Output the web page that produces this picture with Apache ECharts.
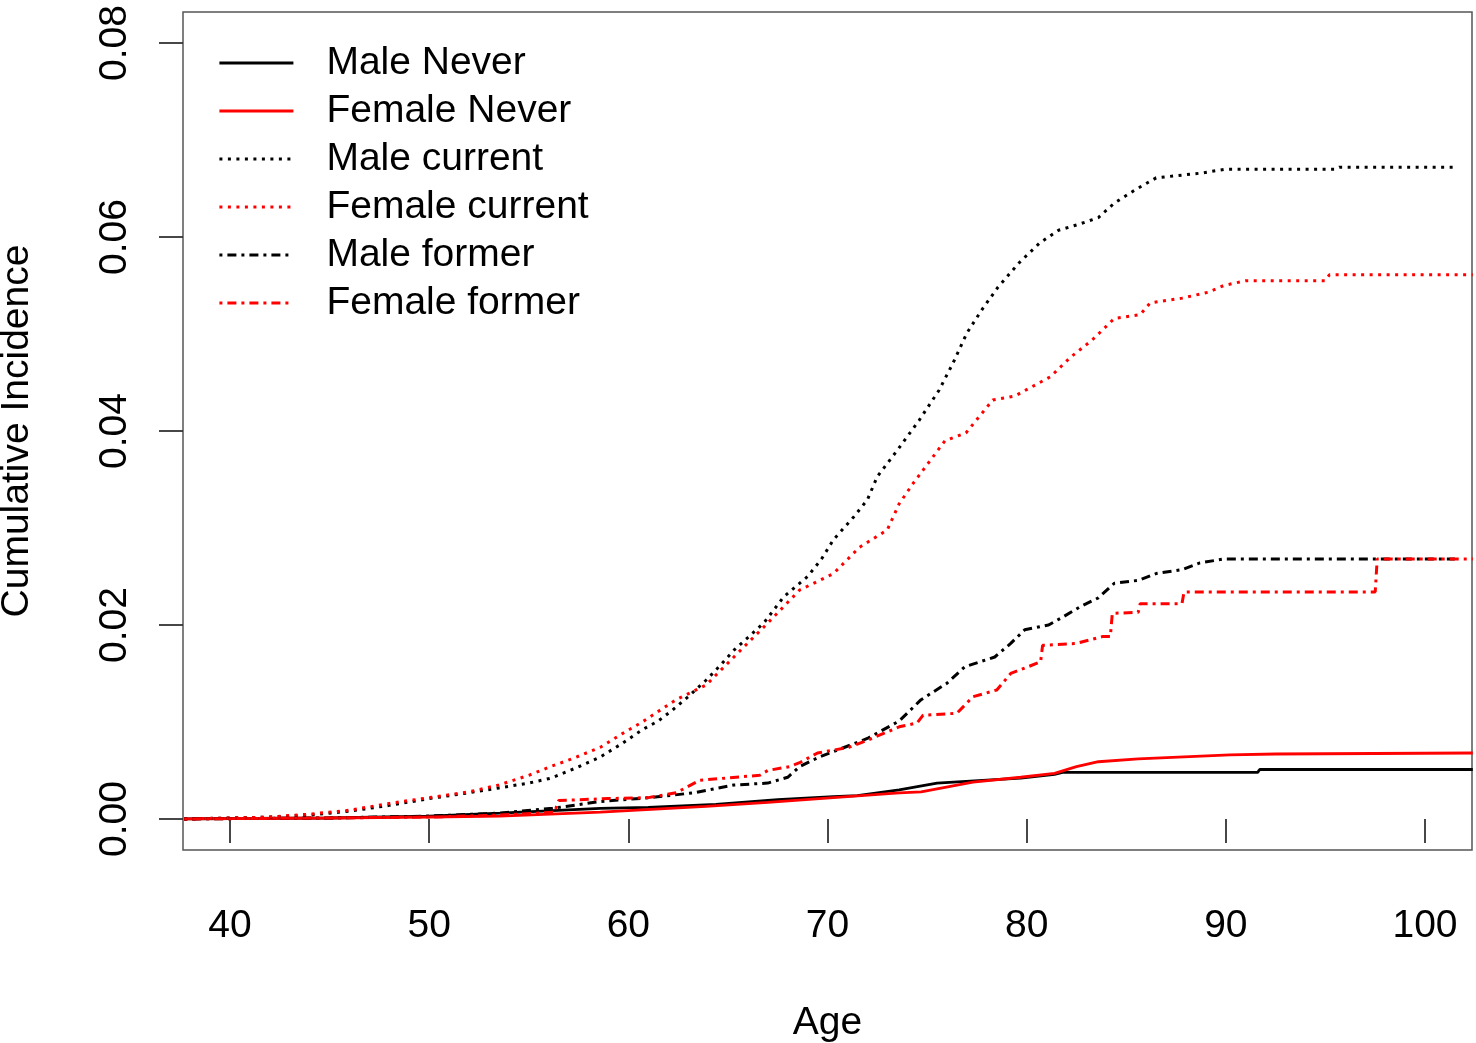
<!DOCTYPE html>
<html>
<head>
<meta charset="utf-8">
<script src="https://cdn.jsdelivr.net/npm/echarts@6/dist/echarts.min.js"></script>
<style>
    html, body { margin: 0; padding: 0; background: #fff; }
    #chart { width: 1476px; height: 1043px; }
</style>
</head>
<body>
<div id="chart"></div>
<script>
(function (window) {
    "use strict";

    // 数据：[年龄, 累计发病率]
    var maleNever = [[37.7, 0], [45, 0.0001], [50, 0.0003], [53.55, 0.0006], [58.6, 0.0011], [61, 0.0012],
        [64.4, 0.0015], [67.5, 0.002], [70.3, 0.0023], [71.5, 0.0024], [73.6, 0.003], [75.5, 0.0037],
        [78, 0.004], [79.7, 0.0042], [81.4, 0.0046], [81.8, 0.0048], [91.6, 0.0048], [91.7, 0.0051],
        [102.4, 0.0051]];

    var femaleNever = [[37.7, 0], [45, 0.0001], [50, 0.0002], [53.55, 0.0003], [58.6, 0.0007], [63.9, 0.0013],
        [67, 0.0017], [70.3, 0.0022], [73.6, 0.0027], [74.7, 0.0028], [77.3, 0.0038], [79.7, 0.0043],
        [81.4, 0.0047], [82.5, 0.0054], [83.6, 0.0059], [85.6, 0.0062], [90.2, 0.0066], [92.5, 0.0067],
        [102.4, 0.0068]];

    var maleCurrent = [[37.7, 0], [40, 0.0001], [42, 0.0002], [44, 0.0004], [46, 0.0008], [48, 0.0014],
        [50, 0.0021], [52, 0.0027], [53.5, 0.0032], [55, 0.0037], [56.1, 0.0042], [57.3, 0.0052],
        [58.6, 0.0064], [59.7, 0.0078], [60.7, 0.0092], [61.5, 0.0101], [62.2, 0.0112], [63, 0.0126],
        [63.9, 0.0143], [64.6, 0.0158], [65.3, 0.0174], [66, 0.0187], [66.8, 0.0202], [67.8, 0.0229],
        [69, 0.025], [69.7, 0.0268], [70.3, 0.0288], [71.3, 0.0311], [72, 0.0329], [72.5, 0.0353],
        [73.5, 0.038], [74.6, 0.0411], [75.6, 0.0442], [76.3, 0.047], [77, 0.0501], [77.75, 0.0525],
        [78.55, 0.0548], [79.6, 0.0573], [80.66, 0.0594], [81.6, 0.0607], [82.6, 0.0613], [83.6, 0.062],
        [84.4, 0.0635], [85.4, 0.0648], [86.5, 0.0661], [88.8, 0.0666], [90, 0.067], [95.5, 0.067],
        [95.7, 0.0672], [101.5, 0.0672]];

    var femaleCurrent = [[37.7, 0], [40, 0.0001], [42, 0.0002], [44, 0.0005], [46, 0.0009], [48, 0.0016],
        [50, 0.0022], [52, 0.0028], [53.5, 0.0035], [55, 0.0045], [56.1, 0.0054], [57.3, 0.0063],
        [58.6, 0.0074], [59.7, 0.0088], [60.7, 0.01], [62.4, 0.0123], [63.9, 0.0138], [65.3, 0.0167],
        [67, 0.0202], [68.6, 0.0236], [70.3, 0.0253], [71.6, 0.028], [73, 0.0298], [73.6, 0.0325],
        [74.3, 0.0346], [75.9, 0.039], [76.95, 0.0398], [78.3, 0.0432], [79.4, 0.0436], [81.2, 0.0456],
        [82.2, 0.0476], [83.3, 0.0494], [84.4, 0.0516], [85.7, 0.052], [86.2, 0.0532], [87.8, 0.0537],
        [89.1, 0.0543], [89.9, 0.055], [91, 0.0555], [95, 0.0555], [95.2, 0.0561], [102.4, 0.0561]];

    var maleFormer = [[37.7, 0], [45, 0.0001], [50, 0.0003], [53.55, 0.0006], [56.2, 0.0011], [58.6, 0.0018],
        [61.1, 0.0022], [63.3, 0.0027], [65.3, 0.0035], [67, 0.0037], [68, 0.0043], [68.6, 0.0054],
        [69.6, 0.0064], [70.5, 0.0071], [72, 0.0083], [73.6, 0.0101], [74.7, 0.0123], [76, 0.014],
        [76.9, 0.0157], [78.4, 0.0167], [79.2, 0.0181], [79.9, 0.0195], [81.1, 0.02], [81.8, 0.0208],
        [82.7, 0.0219], [83.6, 0.0228], [84.4, 0.0243], [85.6, 0.0246], [86.5, 0.0253], [87.8, 0.0257],
        [88.7, 0.0264], [89.9, 0.0268], [101.5, 0.0268]];

    var femaleFormer = [[37.7, 0], [45, 0.0001], [50, 0.0002], [53.55, 0.0004], [56.3, 0.0007], [56.5, 0.0019],
        [59, 0.0021], [61, 0.0022], [62.4, 0.0027], [63.6, 0.004], [66.6, 0.0045], [67, 0.005],
        [68.1, 0.0054], [68.6, 0.0058], [69.5, 0.0068], [71.1, 0.0074], [72, 0.0081], [73.6, 0.0095],
        [74.5, 0.0099], [74.8, 0.0107], [76.5, 0.0109], [77.3, 0.0126], [78.5, 0.0133], [79.2, 0.015],
        [80.7, 0.0162], [80.8, 0.0179], [82.5, 0.0181], [83.8, 0.0188], [84.2, 0.0188], [84.3, 0.0212],
        [85.6, 0.0213], [85.7, 0.0222], [87.8, 0.0222], [87.9, 0.0234], [97.5, 0.0234], [97.6, 0.0268],
        [102.4, 0.0268]];

    var xTicks = [40, 50, 60, 70, 80, 90, 100];
    var yTicks = [0, 0.02, 0.04, 0.06, 0.08];

    var font = "'Liberation Sans', Arial, sans-serif";
    var dotted = [3, 5.5];
    var dotDash = [3, 5, 9, 5];

    var line = function (name, data, color, dash, width) {
        return {
            name: name,
            type: 'line',
            data: data,
            symbol: 'none',
            showSymbol: false,
            lineStyle: { color: color, width: width, type: dash, cap: 'butt' },
            itemStyle: { color: color }
        };
    };

    var myChart = echarts.init(document.getElementById('chart'));
    var option = {
        animation: false,
        backgroundColor: '#fff',
        textStyle: { fontFamily: font },
        grid: {
            left: 183, right: 4, top: 12, bottom: 193,
            outerBoundsMode: 'none',
            containLabel: false,
            show: true, borderColor: '#555', borderWidth: 1.5, backgroundColor: 'transparent'
        },
        legend: {
            orient: 'vertical',
            left: 218,
            top: 43,
            padding: 0,
            itemWidth: 74,
            itemHeight: 20,
            itemGap: 8,
            itemStyle: { opacity: 0 },
            lineStyle: { width: 2.8 },
            textStyle: { fontSize: 39, color: '#000', fontFamily: font, lineHeight: 40, padding: [0, 0, 0, 28] },
            data: ['Male Never', 'Female Never', 'Male current', 'Female current', 'Male former', 'Female former']
        },
        xAxis: {
            type: 'value',
            min: 37.64,
            max: 102.36,
            name: 'Age',
            nameLocation: 'middle',
            nameGap: 154,
            nameTextStyle: { fontSize: 39, color: '#000', fontFamily: font },
            axisLine: { show: false },
            splitLine: { show: false },
            axisTick: { show: true, length: 24, customValues: xTicks, lineStyle: { color: '#333', width: 1.8 } },
            axisLabel: {
                customValues: xTicks, margin: 57, fontSize: 39, color: '#000', fontFamily: font,
                formatter: function (v) { return String(v); }
            }
        },
        yAxis: {
            type: 'value',
            min: -0.0032,
            max: 0.0832,
            name: 'Cumulative Incidence',
            nameLocation: 'middle',
            nameGap: 146,
            nameTextStyle: { fontSize: 39, color: '#000', fontFamily: font },
            axisLine: { show: false },
            splitLine: { show: false },
            axisTick: { show: true, length: 24, customValues: yTicks, lineStyle: { color: '#333', width: 1.8 } },
            axisLabel: {
                customValues: yTicks, margin: 48, rotate: 90, fontSize: 39, color: '#000', fontFamily: font,
                formatter: function (v) { return v.toFixed(2); }
            }
        },
        series: [
            line('Male Never', maleNever, '#000', 'solid', 2.8),
            line('Female Never', femaleNever, '#ff0000', 'solid', 2.8),
            line('Male current', maleCurrent, '#000', dotted, 3),
            line('Female current', femaleCurrent, '#ff0000', dotted, 3),
            line('Male former', maleFormer, '#000', dotDash, 3),
            line('Female former', femaleFormer, '#ff0000', dotDash, 3)
        ]
    };
    myChart.setOption(option);

})(window);
</script>
</body>
</html>
